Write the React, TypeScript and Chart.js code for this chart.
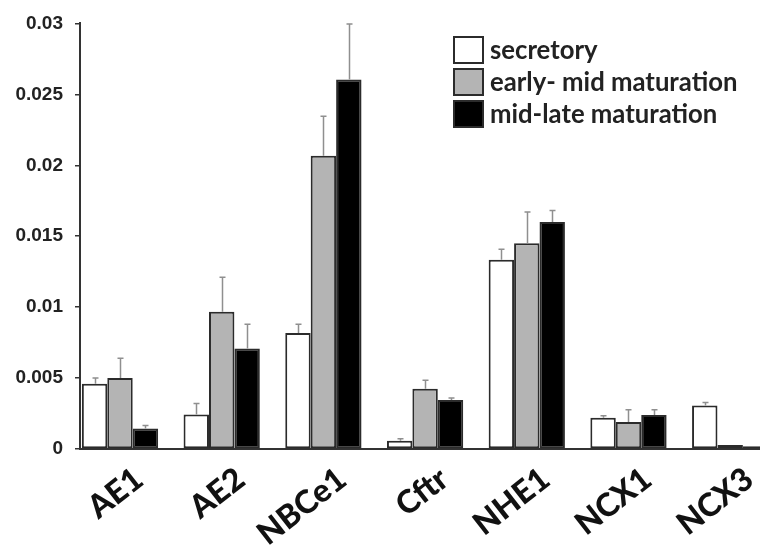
import React, { useEffect, useRef } from "react";
import { Chart, registerables } from "chart.js";

Chart.register(...registerables);

const categories = ["AE1", "AE2", "NBCe1", "Cftr", "NHE1", "NCX1", "NCX3"];
const seriesNames = ["secretory", "early- mid maturation", "mid-late maturation"];
const secretory = [0.0046, 0.00244, 0.00817, 0.00058, 0.01334, 0.0022, 0.00306];
const secretoryErr = [0.0004, 0.00076, 0.00063, 0.00014, 0.00074, 0.00015, 0.00021];
const early = [0.005, 0.00967, 0.02067, 0.00424, 0.0145, 0.0019, 0.00028];
const earlyErr = [0.0014, 0.00243, 0.00278, 0.00061, 0.0022, 0.00086, 0];
const late = [0.00144, 0.00708, 0.02605, 0.00346, 0.016, 0.00239, 0.0002];
const lateErr = [0.00021, 0.00172, 0.0039, 0.00014, 0.00082, 0.00037, 0];
const yTicks = [0, 0.005, 0.01, 0.015, 0.02, 0.025, 0.03];

const fills = ["#ffffff", "#b4b4b4", "#000000"];
const errs = [secretoryErr, earlyErr, lateErr];

const errorBarPlugin = {
  id: "errorBars",
  afterDatasetsDraw(chart: any) {
    const ctx = chart.ctx;
    const yScale = chart.scales.y;
    ctx.save();
    chart.data.datasets.forEach((ds: any, di: number) => {
      const meta = chart.getDatasetMeta(di);
      meta.data.forEach((bar: any, i: number) => {
        const e = errs[di][i];
        if (!e) return;
        const v = ds.data[i].y;
        const yTop = yScale.getPixelForValue(v + e);
        const x = Math.round(bar.x) + 0.5;
        ctx.strokeStyle = "#8f8f8f";
        ctx.lineWidth = 1.5;
        ctx.beginPath();
        ctx.moveTo(x, bar.y);
        ctx.lineTo(x, yTop);
        ctx.moveTo(x - 3, yTop);
        ctx.lineTo(x + 3, yTop);
        ctx.stroke();
      });
    });
    ctx.restore();
  },
};

const legendPlugin = {
  id: "customLegend",
  afterDraw(chart: any) {
    const ctx = chart.ctx;
    ctx.save();
    seriesNames.forEach((name, i) => {
      const x = 454;
      const y = 37 + i * 32;
      ctx.fillStyle = fills[i];
      ctx.fillRect(x, y, 29, 26);
      ctx.strokeStyle = "#2b2b2b";
      ctx.lineWidth = 2;
      ctx.strokeRect(x, y, 29, 26);
      ctx.fillStyle = "#222";
      ctx.font = "bold 25.7px Lato";
      ctx.textBaseline = "middle";
      ctx.textAlign = "left";
      ctx.fillText(name, 490, y + 14);
    });
    ctx.restore();
  },
};

export default function App() {
  const ref = useRef<HTMLCanvasElement>(null);
  useEffect(() => {
    const mk = (arr: number[]) => arr.map((y, i) => ({ x: i, y }));
    const chart = new Chart(ref.current as HTMLCanvasElement, {
      type: "bar",
      data: {
        datasets: [secretory, early, late].map((d, i) => ({
          label: seriesNames[i],
          data: mk(d),
          backgroundColor: fills[i],
          borderColor: "#2b2b2b",
          borderWidth: 2,
          borderSkipped: false,
          categoryPercentage: 0.75,
          barPercentage: 1,
        })),
      },
      options: {
        responsive: false,
        animation: false,
        layout: { padding: { top: 18, right: 0, left: 0, bottom: 0 } },
        plugins: { legend: { display: false }, tooltip: { enabled: false } },
        scales: {
          x: {
            type: "linear",
            offset: false,
            min: -0.3933,
            max: 6.2931,
            afterFit: (s: any) => {
              s.height = 100;
            },
            afterBuildTicks: (s: any) => {
              s.ticks = categories.map((_, i) => ({ value: i }));
            },
            grid: { display: false },
            border: { display: true, color: "#333", width: 2 },
            ticks: {
              autoSkip: false,
              minRotation: 38,
              maxRotation: 38,
              padding: 3,
              labelOffset: 19,
              color: "#111",
              font: { family: "Lato", weight: 900, size: 32 },
              callback: (v: any) => categories[Math.round(v)] ?? "",
            },
          },
          y: {
            min: 0,
            max: 0.03,
            afterFit: (s: any) => {
              s.width = 80;
            },
            afterBuildTicks: (s: any) => {
              s.ticks = yTicks.map((v) => ({ value: v }));
            },
            grid: {
              display: true,
              drawOnChartArea: false,
              drawTicks: true,
              tickLength: 5,
              color: "#333",
              lineWidth: 1.5,
            },
            border: { display: true, color: "#333", width: 2 },
            ticks: {
              padding: 12,
              color: "#222",
              font: { family: "Liberation Sans", weight: "bold", size: 19 },
              callback: (v: any) => String(parseFloat(Number(v).toFixed(3))),
            },
          },
        },
      },
      plugins: [errorBarPlugin, legendPlugin],
    } as any);
    return () => chart.destroy();
  }, []);
  return (
    <div style={{ position: "absolute", left: 0, top: 0, width: 760, height: 549, background: "#fff" }}>
      <canvas ref={ref} width={760} height={549} style={{ display: "block" }} />
    </div>
  );
}
